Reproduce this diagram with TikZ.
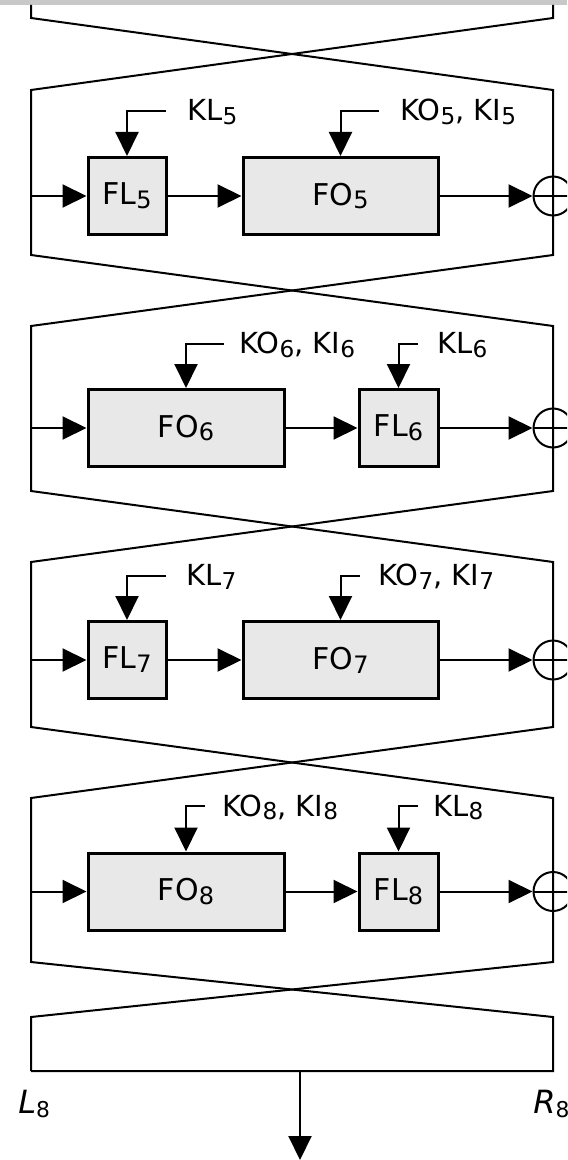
\documentclass[tikz,border=0pt]{standalone}
\usepackage{fontspec}
\setmainfont{DejaVu Sans}
\usetikzlibrary{arrows.meta}
\definecolor{boxgray}{RGB}{232,232,232}
\definecolor{bargray}{RGB}{200,200,200}
\newcommand{\sbs}[1]{\raisebox{-0.13em}{\scalebox{0.8}{#1}}}
\newcommand{\osbs}[1]{\raisebox{-0.14em}{\scalebox{0.68}{\upshape #1}}}
\begin{document}
\begin{tikzpicture}[x=0.5pt,y=-0.5pt,
  ln/.style={line width=1pt},
  fbox/.style={draw, line width=1.5pt, fill=boxgray, inner sep=0pt,
    minimum height=38.5pt, font=\fontsize{15}{17}\selectfont},
  arr/.style={line width=1pt, -{Triangle[length=12pt,width=11.5pt]}},
  xor/.style={circle, draw, line width=1pt, minimum size=19.5pt, inner sep=0pt},
  keylab/.style={anchor=base west, inner sep=0pt, font=\fontsize{14.5}{17}\selectfont},
  lrlab/.style={anchor=base west, inner sep=0pt, font=\fontsize{16}{18}\selectfont\itshape}]
\clip (0,0) rectangle (567,1160);
\fill[bargray] (0,0) rectangle (567,5);

% frame corner coordinates
\coordinate (L0) at (31,5);   \coordinate (R0) at (553,5);
\coordinate (Lb4) at (31,18); \coordinate (Rb4) at (553,18);
\coordinate (Lt5) at (31,90);  \coordinate (Rt5) at (553,90);
\coordinate (Lb5) at (31,255); \coordinate (Rb5) at (553,255);
\coordinate (Lt6) at (31,326); \coordinate (Rt6) at (553,326);
\coordinate (Lb6) at (31,491); \coordinate (Rb6) at (553,491);
\coordinate (Lt7) at (31,562); \coordinate (Rt7) at (553,562);
\coordinate (Lb7) at (31,727); \coordinate (Rb7) at (553,727);
\coordinate (Lt8) at (31,798); \coordinate (Rt8) at (553,798);
\coordinate (Lb8) at (31,962); \coordinate (Rb8) at (553,962);
\coordinate (Lt9) at (31,1017); \coordinate (Rt9) at (553,1017);
\coordinate (Le) at (31,1071); \coordinate (Re) at (553,1071);

\draw[ln] (L0) -- (Lb4) -- (Rt5) -- (Rb5) -- (Lt6) -- (Lb6) -- (Rt7) -- (Rb7)
  -- (Lt8) -- (Lb8) -- (Rt9) -- (Re) -- (Le);
\draw[ln] (R0) -- (Rb4) -- (Lt5) -- (Lb5) -- (Rt6) -- (Rb6) -- (Lt7) -- (Lb7)
  -- (Rt8) -- (Rb8) -- (Lt9) -- (Le);

% ---------- round 5 ----------
\node[fbox, minimum width=39pt] (FL5) at (127,196) {FL\sbs{5}};
\node[fbox, minimum width=97.5pt] (FO5) at (340.5,196) {FO\sbs{5}};
\node[xor] (X5) at (553,196) {};
\coordinate (I5) at (31,196);
\coordinate (K5a) at (166,111);
\coordinate (K5b) at (379,111);
\draw[arr] (I5) -- (FL5);
\draw[arr] (FL5) -- (FO5);
\draw[arr] (FO5) -- (X5);
\draw[ln] (X5.west) -- (X5.east);
\draw[arr] (K5a) -| (FL5);
\draw[arr] (K5b) -| (FO5);
\node[keylab] (KL5) at (187,121) {KL\sbs{5}};
\node[keylab] (KOI5) at (400,121) {KO\sbs{5}, KI\sbs{5}};

% ---------- round 6 ----------
\node[fbox, minimum width=98pt] (FO6) at (186,428) {FO\sbs{6}};
\node[fbox, minimum width=39.5pt] (FL6) at (398.5,428) {FL\sbs{6}};
\node[xor] (X6) at (553,428) {};
\coordinate (I6) at (31,428);
\coordinate (K6a) at (224,343.5);
\coordinate (K6b) at (418,343.5);
\draw[arr] (I6) -- (FO6);
\draw[arr] (FO6) -- (FL6);
\draw[arr] (FL6) -- (X6);
\draw[ln] (X6.west) -- (X6.east);
\draw[arr] (K6a) -| (FO6);
\draw[arr] (K6b) -| (FL6);
\node[keylab] (KOI6) at (239,353.5) {KO\sbs{6}, KI\sbs{6}};
\node[keylab] (KL6) at (437,353.5) {KL\sbs{6}};

% ---------- round 7 ----------
\node[fbox, minimum width=39pt] (FL7) at (127,660) {FL\sbs{7}};
\node[fbox, minimum width=97.5pt] (FO7) at (340.5,660) {FO\sbs{7}};
\node[xor] (X7) at (553,660) {};
\coordinate (I7) at (31,660);
\coordinate (K7a) at (166,575.5);
\coordinate (K7b) at (360,575.5);
\draw[arr] (I7) -- (FL7);
\draw[arr] (FL7) -- (FO7);
\draw[arr] (FO7) -- (X7);
\draw[ln] (X7.west) -- (X7.east);
\draw[arr] (K7a) -| (FL7);
\draw[arr] (K7b) -| (FO7);
\node[keylab] (KL7) at (186,585.5) {KL\sbs{7}};
\node[keylab] (KOI7) at (378,585.5) {KO\sbs{7}, KI\sbs{7}};

% ---------- round 8 ----------
\node[fbox, minimum width=98pt] (FO8) at (186,891.5) {FO\sbs{8}};
\node[fbox, minimum width=39.5pt] (FL8) at (398.5,891.5) {FL\sbs{8}};
\node[xor] (X8) at (553,891.5) {};
\coordinate (I8) at (31,891.5);
\coordinate (K8a) at (205,806);
\coordinate (K8b) at (418,806);
\draw[arr] (I8) -- (FO8);
\draw[arr] (FO8) -- (FL8);
\draw[arr] (FL8) -- (X8);
\draw[ln] (X8.west) -- (X8.east);
\draw[arr] (K8a) -| (FO8);
\draw[arr] (K8b) -| (FL8);
\node[keylab] (KOI8) at (222,816) {KO\sbs{8}, KI\sbs{8}};
\node[keylab] (KL8) at (433,816) {KL\sbs{8}};

% ---------- output ----------
\coordinate (O1) at (300,1071);
\coordinate (O2) at (300,1160);
\draw[arr] (O1) -- (O2);
\node[lrlab] (L8) at (18,1113) {L\osbs{8}};
\node[lrlab] (R8) at (533,1113) {R\osbs{8}};
\end{tikzpicture}
\end{document}
